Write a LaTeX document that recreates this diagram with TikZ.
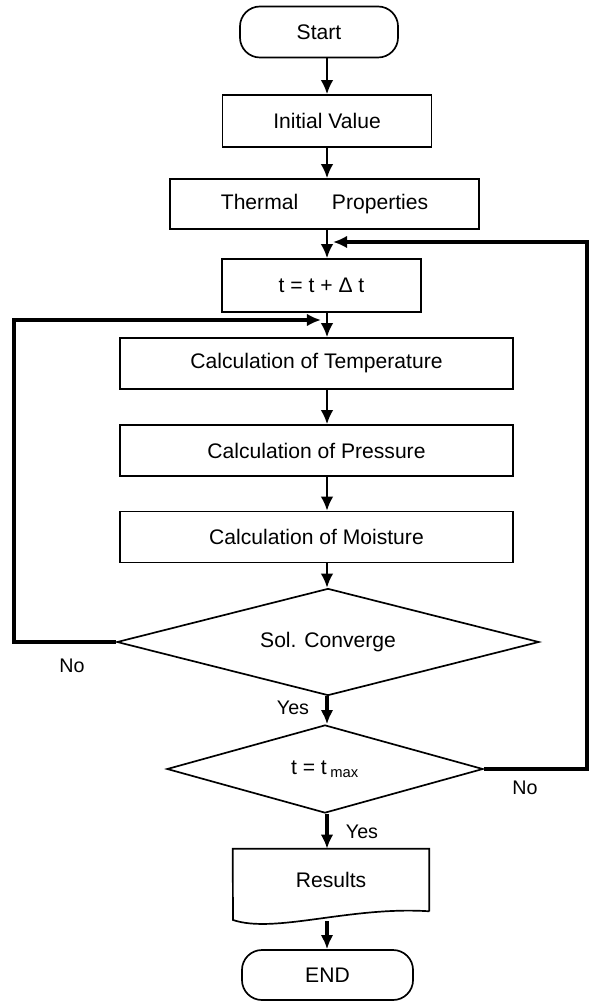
\documentclass[tikz,border=0pt]{standalone}
\usepackage{fontspec}
\setmainfont{Liberation Sans}
\usetikzlibrary{shapes.geometric,arrows.meta}

\tikzset{
  box/.style={draw,line width=1.2pt,font=\fontsize{15}{18}\selectfont,inner sep=0pt},
  process/.style={box,rectangle,minimum height=1.275cm},
  terminal/.style={box,rectangle,rounded corners=0.5cm,minimum height=1.275cm},
  decision/.style={box,diamond,shape aspect=4},
  flow/.style={->,line width=1.5pt},
  heavyflow/.style={->,line width=2.8pt},
  loopline/.style={->,line width=2.2pt},
  answer/.style={font=\fontsize{14}{16}\selectfont,inner sep=0pt}
}

\begin{document}
\begin{tikzpicture}[x=0.025cm,y=-0.025cm,>={Latex[length=10pt,width=9pt]}]
        \useasboundingbox (0,0) rectangle (589,1003);

        % the main column
        \coordinate (axis) at (327,0);

        % draw the steps
        \node[terminal,minimum width=3.95cm] (start) at (319,32) {Start};
        \node[process,minimum width=5.225cm,minimum height=1.3cm] (init) at (327,121) {Initial Value};
        \node[process,minimum width=7.725cm,minimum height=1.25cm] (therm) at (324.5,204) {Thermal\hspace{1.6em}Properties};
        \node[process,minimum width=4.975cm,minimum height=1.325cm] (tstep) at (321.5,285.5) {t = t + Δ t};
        \node[process,minimum width=9.825cm] (temp) at (316.5,363.5) {Calculation of Temperature};
        \node[process,minimum width=9.825cm] (press) at (316.5,450.5) {Calculation of Pressure};
        \node[process,minimum width=9.825cm] (moist) at (316.5,537) {Calculation of Moisture};
        \node[decision,minimum width=10.55cm,minimum height=2.675cm] (sol) at (328,642) {Sol. Converge};
        \node[decision,minimum width=7.9cm,minimum height=2.2cm] (tmax) at (325,769) {t = t\,$_{\mathrm{max}}$};
        \node[font=\fontsize{15}{18}\selectfont,minimum width=4.9cm,minimum height=1.55cm,inner sep=0pt] (res) at (331,880) {Results};
        \node[terminal,minimum width=4.275cm,minimum height=1.25cm] (end) at (327.5,975) {END};

        % results sheet with wavy foot
        \draw[line width=1.2pt] (res.south east) -- (res.north east) -- (res.north west) -- (233,920)
            .. controls (275,934) and (350,906) .. (res.south east);
        \coordinate (resfoot) at (327,921);

        % draw the arrows
        \draw[flow] (start.south -| axis) -- (init.north);
        \draw[flow] (init.south -| axis) -- (therm.north -| axis);
        \draw[flow] (therm.south -| axis) -- (tstep.north -| axis);
        \draw[flow] (tstep.south -| axis) -- (temp.north -| axis);
        \draw[flow] (temp.south -| axis) -- (press.north -| axis);
        \draw[flow] (press.south -| axis) -- (moist.north -| axis);
        \draw[flow] (moist.south -| axis) -- (sol.north -| axis);
        \draw[heavyflow] (sol.south -| axis) -- (tmax.north -| axis);
        \draw[heavyflow] (tmax.south -| axis) -- (res.north -| axis);
        \draw[heavyflow] (resfoot) -- (end.north -| axis);

        % the two loops back
        \coordinate (lbend) at (14,320);
        \coordinate (ljoin) at (321,320);
        \draw[loopline] (sol.west) -| (lbend) -- (ljoin);
        \coordinate (rbend) at (587,242);
        \coordinate (rjoin) at (333,242);
        \draw[loopline] (tmax.east) -| (rbend) -- (rjoin);

        % answers
        \node[answer] (solno) at (72,666) {No};
        \node[answer] (solyes) at (293,708) {Yes};
        \node[answer] (tmaxno) at (525,788) {No};
        \node[answer] (tmaxyes) at (362,832) {Yes};
\end{tikzpicture}
\end{document}
